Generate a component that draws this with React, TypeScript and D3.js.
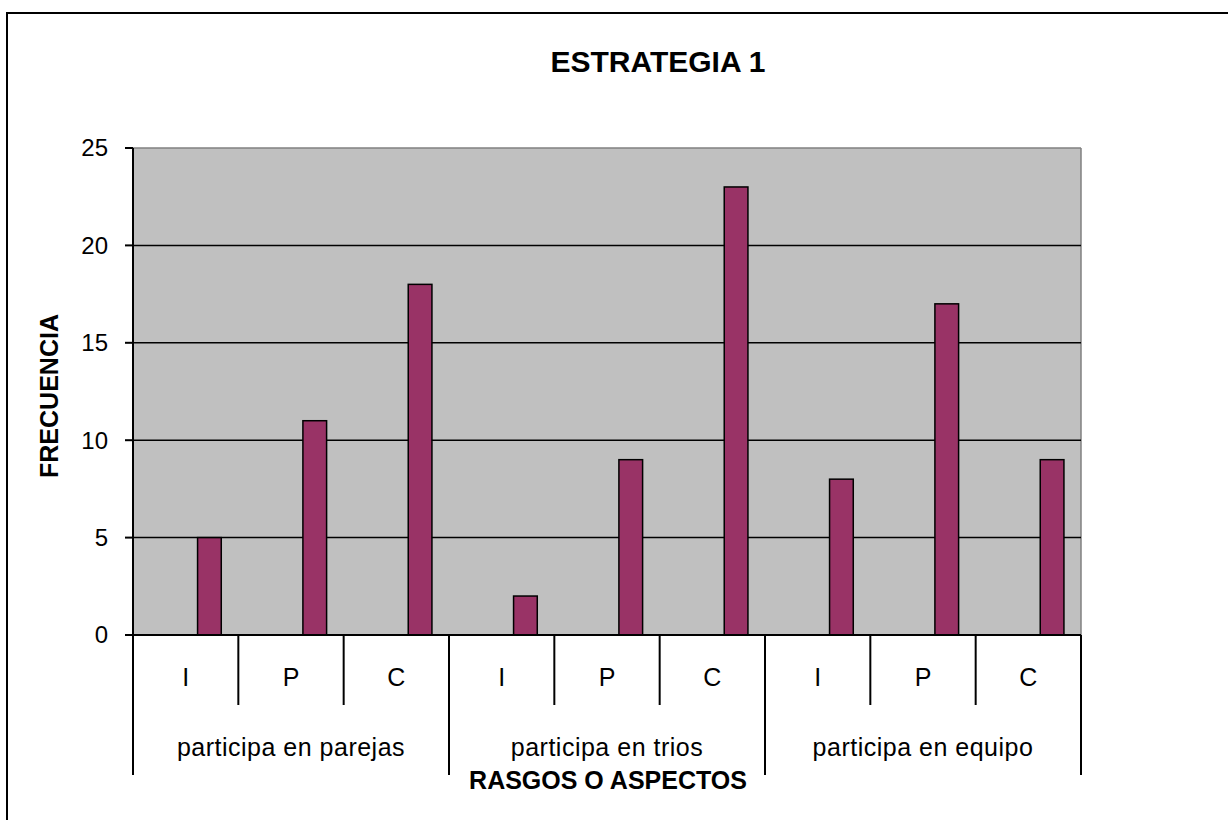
import React from "react";
import * as d3 from "d3";

const groups = ["participa en parejas", "participa en trios", "participa en equipo"];
const subCats = ["I", "P", "C"];
const values = [5, 11, 18, 2, 9, 23, 8, 17, 9];
const yTicks = [0, 5, 10, 15, 20, 25];

const W = 1228, H = 820;
const left = 133, right = 1081, top = 148, bottom = 635;
const FONT = "'Liberation Sans', Arial, sans-serif";

export default function App() {
  const cats = values.map((_, i) => `${i}`);
  const x = d3.scaleBand().domain(cats).range([left, right]).paddingInner(0).paddingOuter(0);
  const y = d3.scaleLinear().domain([0, 25]).range([bottom, top]);
  const bw = x.bandwidth();
  const groupW = bw * 3;

  return (
    <svg width={W} height={H} style={{ position: "absolute", left: 0, top: 0, background: "#fff" }} fontFamily={FONT}>
      <rect x={7} y={13} width={W + 10} height={H + 10} fill="#fff" stroke="#000" strokeWidth={2} />
      <text x={658} y={72} textAnchor="middle" fontSize={30} fontWeight="bold">ESTRATEGIA 1</text>
      <rect x={left} y={top} width={right - left} height={bottom - top} fill="#C0C0C0" />
      <line x1={left} x2={right} y1={top} y2={top} stroke="#808080" strokeWidth={1.5} />
      <line x1={right} x2={right} y1={top} y2={bottom} stroke="#808080" strokeWidth={1.5} />
      {yTicks.filter(t => t > 0 && t < 25).map(t => (
        <line key={"g" + t} x1={left} x2={right} y1={y(t)} y2={y(t)} stroke="#000" strokeWidth={1.5} />
      ))}
      {values.map((v, i) => {
        const x0 = (x(`${i}`) as number) + bw * 0.613;
        return (
          <rect key={"b" + i} x={x0} y={y(v)} width={bw * 0.225} height={y(0) - y(v)}
            fill="#993366" stroke="#000" strokeWidth={1.5} />
        );
      })}
      {/* y axis */}
      <line x1={left} x2={left} y1={top} y2={775} stroke="#000" strokeWidth={2} />
      {yTicks.map(t => (
        <g key={"t" + t}>
          <line x1={left - 8} x2={left} y1={y(t)} y2={y(t)} stroke="#000" strokeWidth={2} />
          <text x={108} y={y(t)} dy="0.35em" textAnchor="end" fontSize={24}>{t}</text>
        </g>
      ))}
      {/* x axis */}
      <line x1={left} x2={right} y1={bottom} y2={bottom} stroke="#000" strokeWidth={2} />
      {values.map((_, i) => {
        const xs = (x(`${i}`) as number) + bw;
        const major = (i + 1) % 3 === 0;
        return <line key={"s" + i} x1={xs} x2={xs} y1={bottom} y2={major ? 775 : 705} stroke="#000" strokeWidth={2} />;
      })}
      {values.map((_, i) => (
        <text key={"c" + i} x={(x(`${i}`) as number) + bw / 2} y={677} dy="0.35em" textAnchor="middle" fontSize={25}>
          {subCats[i % 3]}
        </text>
      ))}
      {groups.map((g, j) => (
        <text key={"grp" + j} x={left + groupW * j + groupW / 2} y={747} dy="0.35em" textAnchor="middle" fontSize={25} letterSpacing={0.5}>{g}</text>
      ))}
      <text x={608} y={780} dy="0.35em" textAnchor="middle" fontSize={25} fontWeight="bold">RASGOS O ASPECTOS</text>
      <text transform={`translate(49,396) rotate(-90)`} dy="0.35em" textAnchor="middle" fontSize={25} fontWeight="bold">FRECUENCIA</text>
    </svg>
  );
}
